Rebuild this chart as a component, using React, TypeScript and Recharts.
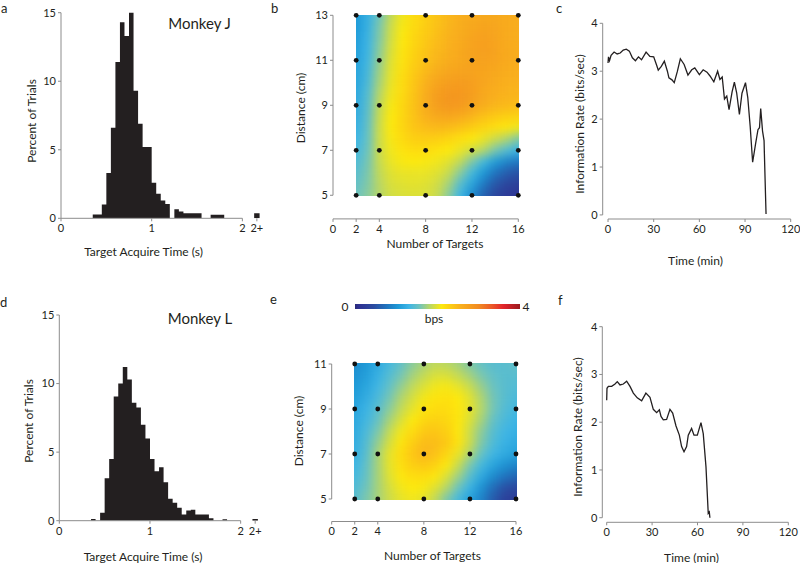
import React from 'react';
import { ComposedChart, ScatterChart, Scatter, Area, Line, XAxis, YAxis, ReferenceLine } from 'recharts';

const FONT = "Lato, 'Noto Sans', sans-serif";
const INK = '#231f20';
const AXIS = '#8c8c8c';

/* ---------------- histograms (a, d) ---------------- */
const BIN_WIDTH = 0.05;
const BINS_J = [0.35, 0.4, 0.45, 0.5, 0.55, 0.6, 0.65, 0.7, 0.75, 0.8, 0.85, 0.9, 0.95, 1.0, 1.05, 1.1, 1.15, 1.2, 1.25, 1.3, 1.35, 1.4, 1.45, 1.5, 1.55, 1.6, 1.65, 1.7, 1.75];
const PCT_J = [0.27, 0.27, 1.0, 3.3, 6.6, 11.4, 14.3, 13.3, 15.2, 9.3, 6.9, 5.2, 5.2, 2.6, 1.8, 1.3, 1.05, 0, 0.66, 0.5, 0.37, 0.37, 0.37, 0.37, 0, 0, 0.25, 0.25, 0.25];
const BINS_L = [0.35, 0.4, 0.45, 0.5, 0.55, 0.6, 0.65, 0.7, 0.75, 0.8, 0.85, 0.9, 0.95, 1.0, 1.05, 1.1, 1.15, 1.2, 1.25, 1.3, 1.35, 1.4, 1.45, 1.5, 1.55, 1.6, 1.65, 1.7, 1.75, 1.8];
const PCT_L = [0.12, 0, 0.58, 3.1, 4.5, 9.05, 10.0, 11.2, 10.3, 8.6, 8.25, 7.0, 6.0, 4.5, 3.6, 3.9, 2.8, 1.6, 1.3, 0.95, 0.46, 0.75, 0.8, 0.46, 0.46, 0.46, 0.17, 0, 0, 0.1];
const OVERFLOW_BIN = [2.13, 2.19];
const OVER_J = 0.37;
const OVER_L = 0.12;
const HIST_X_TICKS = [0, 1, 2, 2.16];
const HIST_Y_TICKS = [0, 5, 10, 15];

/* ---------------- heat maps (b, e) ---------------- */
const HEAT_X = [2, 3, 4, 5, 6, 7, 8, 9, 10, 11, 12, 13, 14, 15, 16];
const HEAT_B_Y = [13, 12.5, 12, 11.5, 11, 10.5, 10, 9.5, 9, 8.5, 8, 7.5, 7, 6.5, 6, 5.5, 5];
const HEAT_B = [
  [1.05, 1.25, 1.55, 1.85, 2.05, 2.2, 2.3, 2.4, 2.5, 2.58, 2.62, 2.65, 2.65, 2.62, 2.6],
  [1.05, 1.25, 1.6, 1.9, 2.08, 2.22, 2.32, 2.42, 2.52, 2.6, 2.66, 2.72, 2.68, 2.62, 2.6],
  [1.08, 1.28, 1.62, 1.92, 2.1, 2.25, 2.35, 2.45, 2.54, 2.62, 2.7, 2.75, 2.7, 2.62, 2.6],
  [1.1, 1.3, 1.65, 1.95, 2.12, 2.27, 2.38, 2.48, 2.56, 2.64, 2.72, 2.76, 2.72, 2.63, 2.6],
  [1.12, 1.32, 1.68, 1.98, 2.15, 2.3, 2.42, 2.52, 2.6, 2.66, 2.72, 2.74, 2.7, 2.63, 2.6],
  [1.14, 1.35, 1.72, 2.0, 2.18, 2.34, 2.48, 2.6, 2.68, 2.72, 2.72, 2.7, 2.66, 2.6, 2.58],
  [1.15, 1.38, 1.75, 2.02, 2.2, 2.38, 2.55, 2.7, 2.78, 2.8, 2.76, 2.68, 2.62, 2.56, 2.55],
  [1.18, 1.42, 1.8, 2.05, 2.22, 2.4, 2.6, 2.78, 2.86, 2.86, 2.78, 2.66, 2.58, 2.53, 2.52],
  [1.2, 1.45, 1.85, 2.08, 2.24, 2.42, 2.6, 2.78, 2.84, 2.82, 2.72, 2.6, 2.52, 2.48, 2.46],
  [1.22, 1.48, 1.88, 2.1, 2.25, 2.4, 2.55, 2.65, 2.68, 2.62, 2.52, 2.42, 2.35, 2.3, 2.28],
  [1.25, 1.5, 1.9, 2.1, 2.25, 2.38, 2.45, 2.48, 2.46, 2.4, 2.32, 2.25, 2.18, 2.12, 2.05],
  [1.3, 1.52, 1.9, 2.08, 2.22, 2.3, 2.32, 2.3, 2.25, 2.18, 2.1, 2.02, 1.9, 1.78, 1.62],
  [1.35, 1.55, 1.9, 2.05, 2.15, 2.2, 2.2, 2.15, 2.1, 2.02, 1.92, 1.8, 1.6, 1.42, 1.28],
  [1.4, 1.58, 1.88, 2.02, 2.08, 2.1, 2.08, 2.05, 1.98, 1.85, 1.62, 1.35, 1.08, 0.9, 0.8],
  [1.45, 1.6, 1.85, 1.98, 2.02, 2.02, 2.02, 1.98, 1.88, 1.65, 1.35, 1.05, 0.78, 0.6, 0.5],
  [1.5, 1.62, 1.82, 1.95, 1.98, 2.0, 1.98, 1.92, 1.75, 1.45, 1.15, 0.82, 0.55, 0.38, 0.3],
  [1.55, 1.65, 1.8, 1.92, 1.95, 1.96, 1.95, 1.88, 1.65, 1.3, 0.95, 0.62, 0.38, 0.22, 0.15],
];
const HEAT_E_Y = [11, 10.5, 10, 9.5, 9, 8.5, 8, 7.5, 7, 6.5, 6, 5.5, 5];
const HEAT_E = [
  [0.95, 1.05, 1.2, 1.35, 1.5, 1.65, 1.76, 1.84, 1.82, 1.74, 1.62, 1.52, 1.45, 1.45, 1.5],
  [1.0, 1.1, 1.25, 1.42, 1.58, 1.74, 1.86, 1.95, 1.95, 1.86, 1.74, 1.6, 1.5, 1.45, 1.45],
  [1.05, 1.15, 1.32, 1.5, 1.68, 1.84, 1.96, 2.05, 2.07, 2.0, 1.88, 1.7, 1.55, 1.45, 1.42],
  [1.1, 1.22, 1.38, 1.58, 1.78, 1.93, 2.06, 2.14, 2.16, 2.1, 1.98, 1.78, 1.58, 1.45, 1.38],
  [1.15, 1.28, 1.45, 1.65, 1.85, 2.0, 2.14, 2.2, 2.2, 2.12, 2.0, 1.8, 1.58, 1.42, 1.35],
  [1.18, 1.33, 1.52, 1.75, 1.95, 2.1, 2.24, 2.28, 2.24, 2.12, 1.96, 1.75, 1.52, 1.38, 1.3],
  [1.2, 1.38, 1.6, 1.85, 2.05, 2.22, 2.35, 2.38, 2.3, 2.12, 1.9, 1.66, 1.45, 1.32, 1.25],
  [1.22, 1.42, 1.68, 1.93, 2.13, 2.3, 2.45, 2.45, 2.35, 2.15, 1.9, 1.62, 1.4, 1.27, 1.2],
  [1.25, 1.45, 1.75, 2.0, 2.2, 2.38, 2.5, 2.42, 2.25, 2.02, 1.78, 1.52, 1.32, 1.2, 1.12],
  [1.3, 1.5, 1.75, 2.0, 2.18, 2.3, 2.35, 2.28, 2.1, 1.88, 1.6, 1.35, 1.15, 1.0, 0.9],
  [1.35, 1.52, 1.75, 1.97, 2.12, 2.2, 2.2, 2.12, 1.95, 1.72, 1.45, 1.18, 0.95, 0.78, 0.65],
  [1.4, 1.56, 1.75, 1.93, 2.05, 2.1, 2.08, 1.98, 1.8, 1.55, 1.28, 1.0, 0.72, 0.5, 0.4],
  [1.45, 1.6, 1.75, 1.9, 2.0, 2.05, 2.0, 1.85, 1.6, 1.35, 1.12, 0.88, 0.58, 0.32, 0.25],
];
const TARGETS = [2, 4, 8, 12, 16];
const DIST_B = [5, 7, 9, 11, 13];
const DIST_E = [5, 7, 9, 11];
const TARGET_TICKS = [0, 2, 4, 8, 12, 16];

/* ---------------- information rate (c, f) ---------------- */
const TIME_C = [0, 0.3, 1, 2, 4, 6, 8, 10, 12, 14, 16, 18, 20, 22, 25, 27.5, 30, 32, 33, 35, 37, 39, 40, 42, 43.5, 45.5, 47.5, 50, 52.5, 55, 57, 60, 62.5, 65, 67, 69.5, 72, 73.5, 75, 76.5, 78, 79.5, 81.5, 83, 84.5, 86.3, 88, 90.3, 91.8, 93.4, 95, 97, 98.5, 99.5, 100.3, 101.5, 102.5, 102.7, 103.8];
const RATE_C = [3.17, 3.3, 3.22, 3.33, 3.4, 3.36, 3.38, 3.44, 3.46, 3.42, 3.28, 3.22, 3.3, 3.24, 3.4, 3.31, 3.3, 3.12, 3.02, 3.1, 3.21, 3.0, 2.86, 2.82, 2.76, 2.99, 3.26, 3.14, 2.92, 3.03, 3.07, 2.93, 3.03, 2.98, 2.9, 2.78, 3.0, 2.83, 2.88, 2.42, 2.48, 2.2, 2.57, 2.77, 2.55, 2.1, 2.54, 2.76, 2.45, 1.84, 1.1, 1.5, 1.78, 1.82, 2.22, 1.75, 1.55, 1.3, 0.02];
const TIME_F = [0, 0.2, 1.1, 3.3, 5.5, 7, 8.8, 11, 13.2, 15.4, 17.6, 20.2, 23.1, 25.9, 28.6, 30.8, 33, 34.8, 35.9, 37.4, 39.6, 41.8, 43.6, 45.8, 48, 49.5, 51.1, 52.8, 53.9, 56.1, 57.7, 59.9, 62.3, 63.8, 65.6, 67.1, 67.8, 68.2];
const RATE_F = [2.46, 2.71, 2.75, 2.75, 2.8, 2.85, 2.78, 2.8, 2.86, 2.75, 2.61, 2.51, 2.45, 2.61, 2.52, 2.27, 2.2, 2.26, 2.12, 2.05, 2.06, 2.27, 2.19, 1.92, 1.73, 1.49, 1.38, 1.49, 1.73, 1.87, 1.73, 1.73, 1.99, 1.76, 1.07, 0.09, 0.12, 0.0];
const TIME_TICKS = [0, 30, 60, 90, 120];
const RATE_TICKS = [0, 1, 2, 3, 4];

/* ---------------- colour map (bps 0..4) ---------------- */
const CMAP_V = [0, 0.1, 0.45, 0.8, 1.05, 1.3, 1.55, 1.8, 2.1, 2.35, 2.55, 2.8, 3.0, 3.3, 3.6, 4.0];
const CMAP_C = ['#2b2a7a', '#2e3192', '#2b4ba0', '#1f78c1', '#1e9ad7', '#3db5e6', '#6cc3c0', '#b5d66a', '#fde90d', '#fcc915', '#f9b11d', '#f59c1e', '#f18a22', '#ec5b27', '#e2242b', '#9a1b1f'];

function hexRgb(h: string) {
  return [parseInt(h.slice(1, 3), 16), parseInt(h.slice(3, 5), 16), parseInt(h.slice(5, 7), 16)];
}
function colorFor(v: number) {
  const x = Math.max(CMAP_V[0], Math.min(CMAP_V[CMAP_V.length - 1], v));
  let i = 0;
  while (i < CMAP_V.length - 2 && x > CMAP_V[i + 1]) i++;
  const f = (x - CMAP_V[i]) / (CMAP_V[i + 1] - CMAP_V[i]);
  const a = hexRgb(CMAP_C[i]);
  const b = hexRgb(CMAP_C[i + 1]);
  const c = a.map((q, k) => Math.round(q + (b[k] - q) * f));
  return `rgb(${c[0]},${c[1]},${c[2]})`;
}

/* ---------------- derived tables ---------------- */
function histData(bins: number[], pct: number[], over: number) {
  const pts = bins.map((x, i) => ({ x, pct: pct[i] }));
  pts.push({ x: bins[bins.length - 1] + BIN_WIDTH, pct: 0 });
  pts.push({ x: OVERFLOW_BIN[0], pct: over });
  pts.push({ x: OVERFLOW_BIN[1], pct: 0 });
  return pts;
}
const histJ = histData(BINS_J, PCT_J, OVER_J);
const histL = histData(BINS_L, PCT_L, OVER_L);

const cellsB = HEAT_B_Y.flatMap((y, r) => HEAT_X.map((x, c) => ({ x, y, v: HEAT_B[r][c] })));
const cellsE = HEAT_E_Y.flatMap((y, r) => HEAT_X.map((x, c) => ({ x, y, v: HEAT_E[r][c] })));
const dotsB = DIST_B.flatMap((y) => TARGETS.map((x) => ({ x, y })));
const dotsE = DIST_E.flatMap((y) => TARGETS.map((x) => ({ x, y })));

const lineC = TIME_C.map((t, i) => ({ t, v: RATE_C[i] }));
const lineF = TIME_F.map((t, i) => ({ t, v: RATE_F[i] }));

/* ---------------- styling helpers ---------------- */
const tickStyle = { fontSize: 11, fill: INK, fontFamily: FONT };
const CELL_W = 11.7;
const CELL_H = 11.4;

const HeatCell = (p: any) => {
  const v = p.payload && p.payload.v !== undefined ? p.payload.v : p.v;
  return <rect x={p.cx - CELL_W / 2} y={p.cy - CELL_H / 2} width={CELL_W} height={CELL_H} fill={colorFor(v)} stroke="none" />;
};
const GridDot = (p: any) => <circle cx={p.cx} cy={p.cy} r={2.4} fill="#111" />;

const fmtHist = (v: number) => (v > 2.1 ? '2+' : String(v));

const B_Y_MIN = 3.95;
const E_Y_MIN = 4;
const C_X_MIN = -3.5;
const C_Y_MIN = -0.085;
const F_X_MIN = -2.9;
const F_Y_MIN = -0.096;

function Histogram({ data, width, height, margin }: any) {
  return (
    <ComposedChart width={width} height={height} data={data} margin={margin}>
      <XAxis type="number" dataKey="x" domain={[0, 2.2]} ticks={HIST_X_TICKS} interval={0} tickFormatter={fmtHist}
        height={20} tickSize={3} tickMargin={3} axisLine={false} tickLine={{ stroke: AXIS }} tick={tickStyle} allowDataOverflow />
      <YAxis type="number" domain={[0, 15]} ticks={HIST_Y_TICKS} interval={0} width={30} tickSize={3}
        axisLine={{ stroke: AXIS }} tickLine={{ stroke: AXIS }} tick={tickStyle} allowDataOverflow />
      <Area type="stepAfter" dataKey="pct" fill={INK} fillOpacity={1} stroke="none" dot={false} activeDot={false} isAnimationActive={false} />
      <ReferenceLine segment={[{ x: 0, y: 0 }, { x: 2, y: 0 }]} stroke={AXIS} ifOverflow="visible" />
    </ComposedChart>
  );
}

function Heat({ cells, dots, yMin, yMax, yTicks, cls, width, height, margin }: any) {
  return (
    <ScatterChart width={width} height={height} margin={margin}>
      <XAxis type="number" dataKey="x" domain={[0, 16]} ticks={TARGET_TICKS} interval={0} height={20} tickSize={3} tickMargin={3}
        axisLine={{ stroke: AXIS }} tickLine={{ stroke: AXIS }} tick={tickStyle} />
      <YAxis type="number" dataKey="y" domain={[yMin, yMax]} ticks={yTicks} interval={0} width={30} tickSize={3}
        axisLine={false} tickLine={{ stroke: AXIS }} tick={tickStyle} />
      <Scatter data={cells} shape={HeatCell} className={cls} isAnimationActive={false} />
      <Scatter data={dots} shape={GridDot} isAnimationActive={false} />
      <ReferenceLine segment={[{ x: 0, y: yTicks[0] }, { x: 0, y: yMax }]} stroke={AXIS} ifOverflow="visible" />
    </ScatterChart>
  );
}

function RateChart({ data, xMin, yMin, width, height, margin }: any) {
  return (
    <ComposedChart width={width} height={height} data={data} margin={margin}>
      <XAxis type="number" dataKey="t" domain={[xMin, 120]} ticks={TIME_TICKS} interval={0} height={20} tickSize={3} tickMargin={3}
        axisLine={false} tickLine={{ stroke: AXIS }} tick={tickStyle} allowDataOverflow />
      <YAxis type="number" domain={[yMin, 4]} ticks={RATE_TICKS} interval={0} width={30} tickSize={3}
        axisLine={false} tickLine={{ stroke: AXIS }} tick={tickStyle} allowDataOverflow />
      <ReferenceLine segment={[{ x: 0, y: yMin }, { x: 120, y: yMin }]} stroke={AXIS} ifOverflow="visible" />
      <ReferenceLine segment={[{ x: xMin, y: 0 }, { x: xMin, y: 4 }]} stroke={AXIS} ifOverflow="visible" />
      <Line type="linear" dataKey="v" stroke={INK} strokeWidth={1.3} dot={false} activeDot={false} isAnimationActive={false} />
    </ComposedChart>
  );
}

const pos = (left: number, top: number): React.CSSProperties => ({ position: 'absolute', left, top });

const gradient = `linear-gradient(to right, ${CMAP_V.map((v, i) => `${CMAP_C[i]} ${(v / 4) * 100}%`).join(', ')})`;

function T({ x, y, children, size = 12, rot = 0, anchor = 'middle', base = 'central' }: any) {
  return (
    <text x={x} y={y} fontSize={size} fill={INK} textAnchor={anchor} dominantBaseline={base} fontFamily={FONT}
      transform={rot ? `rotate(${rot} ${x} ${y})` : undefined}>
      {children}
    </text>
  );
}

export default function App() {
  return (
    <div style={{ position: 'fixed', left: 0, top: 0, width: 800, height: 563, background: '#fff', overflow: 'hidden', fontFamily: FONT }}>
      <style>{`.heatB { filter: url(#smoothB); } .heatE { filter: url(#smoothE); }`}</style>
      <svg width={0} height={0} style={{ position: 'absolute' }}>
        <defs>
          <filter id="smoothB" x={0.5 / 15} y={0.5 / 17} width={14 / 15} height={16 / 17} colorInterpolationFilters="sRGB">
            <feGaussianBlur stdDeviation={5} />
            <feComponentTransfer>
              <feFuncA type="linear" slope={40} intercept={0} />
            </feComponentTransfer>
          </filter>
          <filter id="smoothE" x={0.5 / 15} y={0.5 / 13} width={14 / 15} height={12 / 13} colorInterpolationFilters="sRGB">
            <feGaussianBlur stdDeviation={5} />
            <feComponentTransfer>
              <feFuncA type="linear" slope={40} intercept={0} />
            </feComponentTransfer>
          </filter>
        </defs>
      </svg>

      <div style={pos(0, 0)}>
        <Histogram data={histJ} width={270} height={260} margin={{ top: 12.7, right: 9.5, bottom: 21.7, left: 31 }} />
      </div>
      <div style={pos(0, 280)}>
        <Histogram data={histL} width={270} height={283} margin={{ top: 35, right: 11.2, bottom: 22.3, left: 29.3 }} />
      </div>
      <div style={pos(270, 0)}>
        <Heat cells={cellsB} dots={dotsB} yMin={B_Y_MIN} yMax={13} yTicks={DIST_B} cls="heatB"
          width={270} height={260} margin={{ top: 15.3, right: 21.7, bottom: 21.1, left: 33 }} />
      </div>
      <div style={pos(270, 280)}>
        <Heat cells={cellsE} dots={dotsE} yMin={E_Y_MIN} yMax={11} yTicks={DIST_E} cls="heatE"
          width={270} height={283} margin={{ top: 84, right: 24, bottom: 21.5, left: 31.7 }} />
      </div>
      <div style={pos(540, 0)}>
        <RateChart data={lineC} xMin={C_X_MIN} yMin={C_Y_MIN} width={260} height={260}
          margin={{ top: 23.3, right: 9.3, bottom: 21, left: 32.7 }} />
      </div>
      <div style={pos(540, 280)}>
        <RateChart data={lineF} xMin={F_X_MIN} yMin={F_Y_MIN} width={260} height={283}
          margin={{ top: 46.7, right: 11.7, bottom: 20.7, left: 32.3 }} />
      </div>

      {/* colour bar */}
      <div style={{ position: 'absolute', left: 355, top: 304.3, width: 165, height: 4.7, background: gradient }} />

      <svg width={800} height={563} style={{ position: 'absolute', left: 0, top: 0, pointerEvents: 'none' }}>
        <T x={1} y={13} size={13} anchor="start" base="alphabetic">a</T>
        <T x={271} y={13} size={13} anchor="start" base="alphabetic">b</T>
        <T x={556} y={13} size={13} anchor="start" base="alphabetic">c</T>
        <T x={0} y={306.7} size={13} anchor="start" base="alphabetic">d</T>
        <T x={270} y={303.5} size={13} anchor="start" base="alphabetic">e</T>
        <T x={558} y={305} size={13} anchor="start" base="alphabetic">f</T>

        <T x={199.5} y={29.3} size={15} base="alphabetic">Monkey J</T>
        <T x={200} y={324} size={15} base="alphabetic">Monkey L</T>

        <T x={31.5} y={121} rot={-90}>Percent of Trials</T>
        <T x={143.5} y={251.5}>Target Acquire Time (s)</T>
        <T x={28} y={421} rot={-90}>Percent of Trials</T>
        <T x={143} y={556}>Target Acquire Time (s)</T>

        <T x={300} y={108} rot={-90}>Distance (cm)</T>
        <T x={435} y={243}>Number of Targets</T>
        <T x={298} y={431} rot={-90}>Distance (cm)</T>
        <T x={432.5} y={555.5}>Number of Targets</T>

        <T x={579} y={124} rot={-90}>Information Rate (bits/sec)</T>
        <T x={695.5} y={260}>Time (min)</T>
        <T x={577.5} y={427} rot={-90}>Information Rate (bits/sec)</T>
        <T x={691.5} y={557}>Time (min)</T>

        <T x={345} y={306.7} size={12}>0</T>
        <T x={526} y={306.7} size={12}>4</T>
        <T x={434} y={318.5} size={12}>bps</T>
      </svg>
    </div>
  );
}
